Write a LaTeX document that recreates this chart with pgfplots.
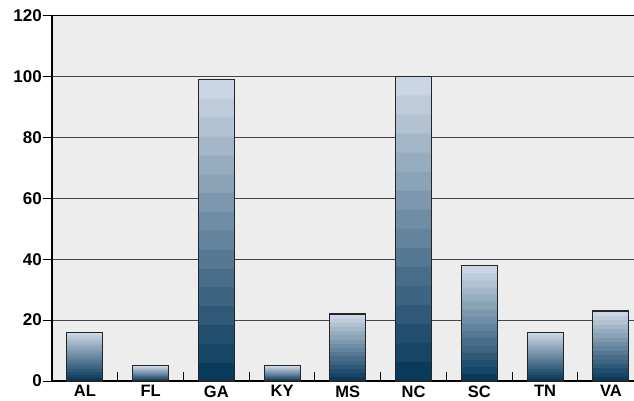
\documentclass[border=0pt]{standalone}
\usepackage{pgfplots}
\pgfplotsset{compat=1.18}
\usepackage{fontspec}
\setmainfont{Liberation Sans}
\definecolor{plotbg}{HTML}{EDEDED}
\definecolor{bardark}{HTML}{083A5C}
\definecolor{barlight}{HTML}{CBD6E4}
\definecolor{gridc}{HTML}{454545}
\colorlet{b0}{bardark}
\colorlet{b1}{barlight!7!bardark}
\colorlet{b2}{barlight!13!bardark}
\colorlet{b3}{barlight!20!bardark}
\colorlet{b4}{barlight!27!bardark}
\colorlet{b5}{barlight!33!bardark}
\colorlet{b6}{barlight!40!bardark}
\colorlet{b7}{barlight!47!bardark}
\colorlet{b8}{barlight!53!bardark}
\colorlet{b9}{barlight!60!bardark}
\colorlet{b10}{barlight!67!bardark}
\colorlet{b11}{barlight!73!bardark}
\colorlet{b12}{barlight!80!bardark}
\colorlet{b13}{barlight!87!bardark}
\colorlet{b14}{barlight!93!bardark}
\colorlet{b15}{barlight}
\pgfdeclareverticalshading{bands}{100bp}{%
  color(0bp)=(b0); color(28.125bp)=(b0);
  color(28.135bp)=(b1); color(31.25bp)=(b1);
  color(31.26bp)=(b2); color(34.375bp)=(b2);
  color(34.385bp)=(b3); color(37.5bp)=(b3);
  color(37.51bp)=(b4); color(40.625bp)=(b4);
  color(40.635bp)=(b5); color(43.75bp)=(b5);
  color(43.76bp)=(b6); color(46.875bp)=(b6);
  color(46.885bp)=(b7); color(50bp)=(b7);
  color(50.01bp)=(b8); color(53.125bp)=(b8);
  color(53.135bp)=(b9); color(56.25bp)=(b9);
  color(56.26bp)=(b10); color(59.375bp)=(b10);
  color(59.385bp)=(b11); color(62.5bp)=(b11);
  color(62.51bp)=(b12); color(65.625bp)=(b12);
  color(65.635bp)=(b13); color(68.75bp)=(b13);
  color(68.76bp)=(b14); color(71.875bp)=(b14);
  color(71.885bp)=(b15); color(100bp)=(b15)}
\pgfplotsset{barstyle/.style={ybar, bar width=36pt, draw=black!85, line width=1.2pt, solid, mark=none, shade, shading=bands}}
\begin{document}
\begin{tikzpicture}[x=1pt,y=1pt]
\begin{axis}[
  at={(52pt,19pt)}, anchor=south west,
  scale only axis,
  width=591.75pt, height=365.5pt,
  xmin=-0.5, xmax=8.5,
  ymin=0, ymax=120,
  ytick={0,20,...,120},
  xtick={0,...,8},
  xticklabels={AL,FL,GA,KY,MS,NC,SC,TN,VA},
  minor x tick num=1,
  tick pos=left,
  tick align=outside,
  major tick length=9pt,
  minor tick length=-9pt,
  major x tick style={draw=none},
  minor x tick style={draw=black, line width=1pt},
  y tick style={draw=black, line width=1pt},
  ymajorgrids,
  major grid style={draw=gridc, line width=1.1pt},
  axis line style={draw=black, line width=1.4pt},
  axis background/.style={fill=plotbg},
  /pgf/number format/assume math mode=true,
  ticklabel style={font=\bfseries\fontsize{17}{17}\selectfont},
  xticklabel style={font=\bfseries\fontsize{16.5}{16.5}\selectfont, yshift=8pt},
  yticklabel style={inner sep=1pt},
  clip=false,
]
\addplot[barstyle] coordinates {(0,16)};
\addplot[barstyle] coordinates {(1,5)};
\addplot[barstyle] coordinates {(2,99)};
\addplot[barstyle] coordinates {(3,5)};
\addplot[barstyle] coordinates {(4,22)};
\addplot[barstyle] coordinates {(5,100)};
\addplot[barstyle] coordinates {(6,38)};
\addplot[barstyle] coordinates {(7,16)};
\addplot[barstyle] coordinates {(8,23)};
\end{axis}
\pgfresetboundingbox
\path[use as bounding box] (0,0) rectangle (634pt,400pt);
\end{tikzpicture}
\end{document}
